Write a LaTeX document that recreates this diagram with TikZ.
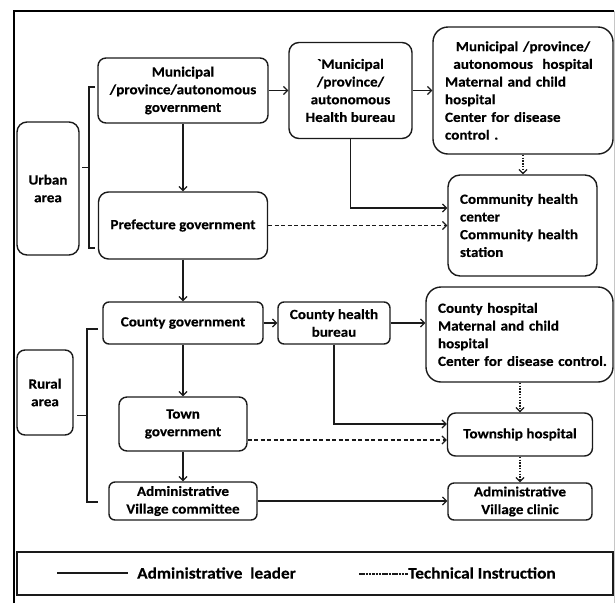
\documentclass[tikz,border=0pt]{standalone}
\usepackage{fontspec}
\setmainfont{Carlito}[FakeStretch=1.08, BoldFeatures={FakeBold=0.4}]
\usetikzlibrary{arrows.meta,calc}
\definecolor{ln}{HTML}{1A1A1A}
\begin{document}
\begin{tikzpicture}[x=1pt,y=-1pt,
  every node/.style={font=\fontsize{14}{17.7}\selectfont\bfseries, text=black},
  box/.style={draw=ln, line width=1.4pt, rounded corners=8pt, inner sep=0pt, align=center},
  lbox/.style={box, align=left, inner xsep=12pt, inner ysep=0pt},
  con/.style={draw=ln, line width=1.3pt, -{Straight Barb[length=4pt,width=8pt,line width=1.2pt]}},
  dsh/.style={con, dash pattern=on 4pt off 2.5pt},
  dot/.style={con, line width=1.4pt, dash pattern=on 1.5pt off 1.3pt},
  brk/.style={draw=ln, line width=1.3pt},
  lgd/.style={font=\fontsize{16}{19}\selectfont\bfseries, anchor=west, inner sep=0pt}
]
\useasboundingbox (0,0) rectangle (615,603);
% outer frame
\draw[black, line width=1.8pt] (14,603) -- (14,11) -- (614,11);
\draw[gray!45, line width=0.8pt] (614,11) -- (614,603);

% nodes
\node[box, minimum width=170, minimum height=65] (A) at (183,90.5) {Municipal\\/province/autonomous\\government};
\node[box, minimum width=62, minimum height=133, rounded corners=10pt] (U) at (48,188.5) {Urban\\area};
\node[box, minimum width=169, minimum height=67, rounded corners=10pt] (B) at (183,225.5) {Prefecture government};
\node[box, minimum width=123, minimum height=96, rounded corners=10pt] (C) at (350.5,90.5) {\textasciigrave Municipal\\/province/\\autonomous\\Health bureau};
\node[lbox, text width=156, minimum height=127, rounded corners=15pt] (D) at (523,90.5)
  {\makebox[\linewidth]{Municipal /province/}\\\makebox[\linewidth]{autonomous\ \ hospital}\\Maternal and child\\hospital\\Center for disease\\control .};
\node[lbox, text width=125, minimum height=101, rounded corners=12pt] (E) at (522.5,225.5)
  {Community health\\center\\Community health\\station};
\node[box, minimum width=160, minimum height=42, rounded corners=6pt] (F) at (183,323) {County government};
\node[box, minimum width=56, minimum height=85, rounded corners=8pt] (R) at (45,392.5) {Rural\\area};
\node[box, minimum width=112, minimum height=42, rounded corners=6pt] (G) at (334,323) {County health\\bureau};
\node[lbox, text width=163, minimum height=95, rounded corners=15pt] (H) at (519.5,334.5)
  {County hospital\\Maternal and child\\hospital\\\mbox{Center for disease control.}};
\node[box, minimum width=128, minimum height=54, rounded corners=8pt] (I) at (183,424) {Town\\government};
\node[box, minimum width=145, minimum height=43, rounded corners=8pt] (J) at (520,434.5) {Township hospital};
\node[box, minimum width=148, minimum height=38, rounded corners=6pt] (K) at (183,501) {Administrative\\Village committee};
\node[box, minimum width=144, minimum height=37, rounded corners=6pt] (L) at (520,501.5) {Administrative\\Village clinic};

% brackets
\coordinate (ub) at (82,167.5);
\coordinate (rb) at (77,415.5);
\draw[brk] (95,87) -- (89,87) -- (89,248) -- (95,248);
\draw[brk] (ub) -- (89,167.5);
\draw[brk] (98,329) -- (87,329) -- (87,502) -- (98,502);
\draw[brk] (rb) -- (87,415.5);

% connectors
\draw[con] (A.east) -- (A.east -| C.west);
\draw[con] (C.east) -- (C.east -| D.west);
\draw[con] (A.south) -- (A.south |- B.north);
\draw[con] (B.south) -- (B.south |- F.north);
\draw[con] (C.south) |- ($(E.west)+(0,-17.5)$);
\draw[dsh] (B.east) -- (B.east -| E.west);
\draw[dot] (D.south) -- (D.south |- E.north);
\draw[con] (F.east) -- (F.east -| G.west);
\draw[con] (G.east) -- (G.east -| H.west);
\draw[con] (F.south) -- (F.south |- I.north);
\draw[con] (G.south) |- ($(J.west)+(0,-10.5)$);
\coordinate (ie) at ($(I.east)+(0,16)$);
\draw[dsh] (ie) -- (ie -| J.west);
\draw[dot] (H.south -| J.north) -- (J.north);
\draw[con] (I.south) -- (I.south |- K.north);
\draw[dot] (J.south) -- (J.south |- L.north);
\draw[con] (K.east) -- (K.east -| L.west);

% legend
\node[draw=ln, line width=1.4pt, minimum width=596, minimum height=43, inner sep=0pt] (leg) at (315,573.5) {};
\coordinate (s1) at (57,573);
\coordinate (s2) at (128,573);
\draw[ln, line width=1.1pt] (s1) -- (s2);
\node[lgd] (lt1) at (137,573) {Administrative\ \ leader};
\coordinate (d1) at (359,574);
\coordinate (d2) at (408,574);
\draw[ln, line width=1.1pt, dash pattern=on 2.5pt off 0.8pt] (d1) -- (d2);
\node[lgd] (lt2) at (408,573) {Technical Instruction};
\end{tikzpicture}
\end{document}
